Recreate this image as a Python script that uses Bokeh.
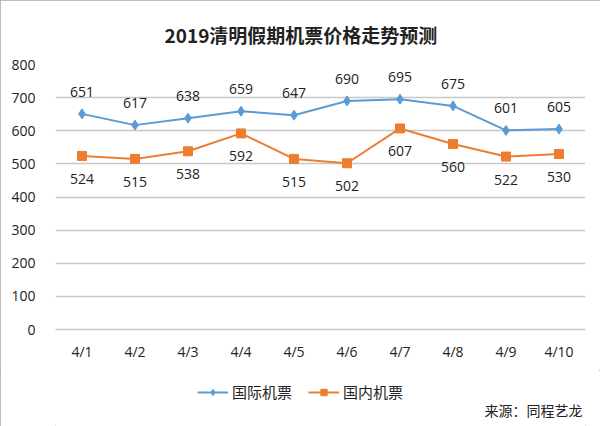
from bokeh.plotting import figure
from bokeh.layouts import column
from bokeh.models import (ColumnDataSource, Legend, LegendItem, Label, FactorRange,
                          Range1d, FixedTicker)
from bokeh.embed import file_html
from bokeh.resources import INLINE
from bokeh.core.properties import value

dates = ["4/1", "4/2", "4/3", "4/4", "4/5", "4/6", "4/7", "4/8", "4/9", "4/10"]
intl = [651, 617, 638, 659, 647, 690, 695, 675, 601, 605]
dom = [524, 515, 538, 592, 515, 502, 607, 560, 522, 530]
y_ticks = [0, 100, 200, 300, 400, 500, 600, 700, 800]
series_names = ["国际机票", "国内机票"]

FONT = "Noto Sans CJK SC"
NUMF = "Open Sans"
BLUE = "#5b9bd5"
ORANGE = "#ed7d31"
TXT = "#222222"

src = ColumnDataSource(dict(d=dates, intl=intl, dom=dom,
                            intl_t=[str(v) for v in intl],
                            dom_t=[str(v) for v in dom]))

p = figure(width=600, height=370, x_range=FactorRange(*dates, range_padding=0),
           y_range=Range1d(0, 800), output_backend="svg", toolbar_location=None,
           min_border_left=55, min_border_right=15, min_border_top=64,
           min_border_bottom=41)

p.title.text = "2019清明假期机票价格走势预测"
p.title.align = "left"
p.title.offset = 109
p.title.text_font = FONT
p.title.text_font_size = "19px"
p.title.text_font_style = "bold"
p.title.text_color = TXT
p.title.standoff = 33

p.outline_line_color = None
p.xgrid.grid_line_color = None
p.ygrid.grid_line_color = "#c8c8c8"
p.ygrid.grid_line_width = 1.5
p.yaxis.ticker = FixedTicker(ticks=y_ticks)

for ax in (p.xaxis, p.yaxis):
    ax.axis_line_color = None
    ax.major_tick_line_color = None
    ax.minor_tick_line_color = None
    ax.major_tick_out = 0
    ax.major_tick_in = 0
    ax.major_label_text_font = NUMF
    ax.major_label_text_font_size = "14px"
    ax.major_label_text_color = TXT
p.xaxis.axis_line_color = "#c8c8c8"
p.xaxis.axis_line_width = 1.5
p.xaxis.major_label_standoff = 12
p.yaxis.major_label_standoff = 20

p.line("d", "intl", source=src, color=BLUE, line_width=2)
p.scatter("d", "intl", source=src, marker="diamond", size=10, color=BLUE)
p.line("d", "dom", source=src, color=ORANGE, line_width=2)
p.scatter("d", "dom", source=src, marker="square", size=9, color=ORANGE)

p.text("d", "intl", text="intl_t", source=src, y_offset=-22, text_align="center",
       text_baseline="middle", text_font=value(NUMF), text_font_size="14px",
       text_color=TXT)
p.text("d", "dom", text="dom_t", source=src, y_offset=23, text_align="center",
       text_baseline="middle", text_font=value(NUMF), text_font_size="14px",
       text_color=TXT)

# legend / source strip below the chart (its renderers lie outside its ranges)
q = figure(width=600, height=56, x_range=Range1d(0, 1), y_range=Range1d(0, 1),
           output_backend="svg", toolbar_location=None, min_border=0,
           x_axis_type=None, y_axis_type=None)
q.outline_line_color = None
q.grid.visible = False
ql1 = q.line("intl", "dom", source=src, color=BLUE, line_width=2)
qm1 = q.scatter("intl", "dom", source=src, marker="diamond", size=10, color=BLUE)
ql2 = q.line("dom", "intl", source=src, color=ORANGE, line_width=2)
qm2 = q.scatter("dom", "intl", source=src, marker="square", size=9, color=ORANGE)

legend = Legend(items=[LegendItem(label=series_names[0], renderers=[ql1, qm1]),
                       LegendItem(label=series_names[1], renderers=[ql2, qm2])],
                orientation="horizontal", location=(142, 24), padding=0, margin=0,
                spacing=16, glyph_width=31, glyph_height=16, label_standoff=4,
                border_line_color=None, background_fill_alpha=0,
                label_text_font=FONT, label_text_font_size="15px",
                label_text_color=TXT)
q.add_layout(legend, "center")

q.add_layout(Label(x=527, y=17, x_units="screen", y_units="screen",
                   text="来源：同程艺龙", text_align="right", text_baseline="middle",
                   text_font=FONT, text_font_size="14px", text_color=TXT))

layout = column(p, q, spacing=0,
                styles={"outline": "1px solid #a6a6a6", "outline-offset": "-1px"})
open("out.html", "w").write(file_html(layout, INLINE))
